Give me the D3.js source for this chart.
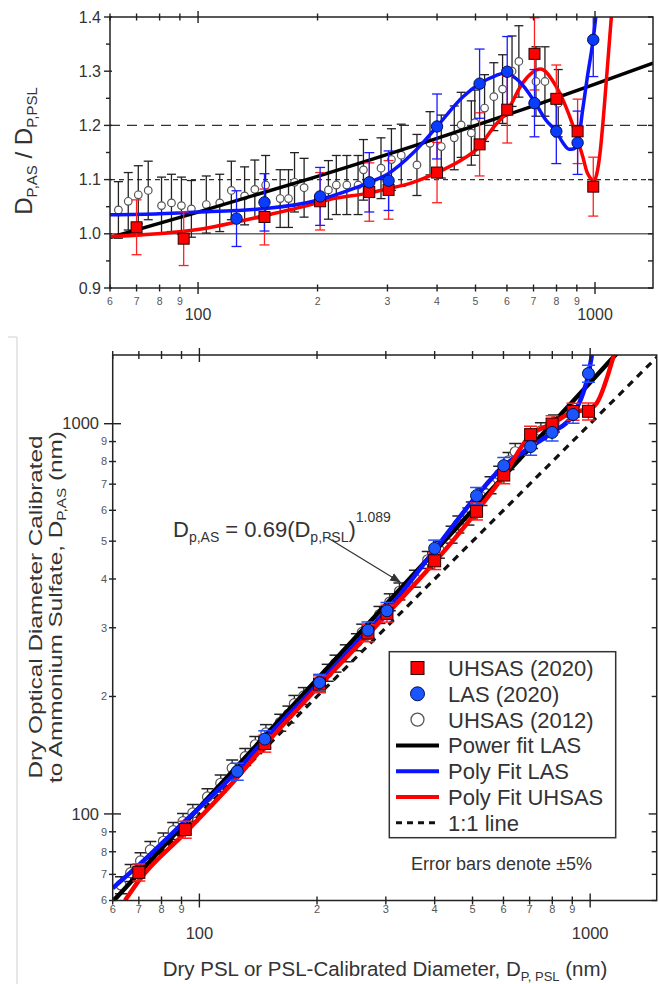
<!DOCTYPE html>
<html><head><meta charset="utf-8">
<script src="https://cdn.jsdelivr.net/npm/d3@7"></script>
<style>body{margin:0;background:#fff}svg{display:block;font-family:Arial,"Liberation Sans",sans-serif}</style>
</head><body><svg id="c" width="659" height="984"></svg>
<script>
// ---------- data ----------
// PSL diameter (nm) and ratio D_P,AS / D_P,PSL
const uhsas2020D = [70, 92, 147, 203, 270, 302, 400, 512, 601, 704, 799, 904, 990];
const uhsas2020R = [1.012, 0.991, 1.031, 1.060, 1.077, 1.081, 1.113, 1.165, 1.229, 1.332, 1.249, 1.189, 1.087];
const las2020D = [125, 147, 203, 270, 302, 400, 512, 601, 704, 799, 904, 990];
const las2020R = [1.028, 1.058, 1.069, 1.095, 1.098, 1.198, 1.277, 1.299, 1.241, 1.189, 1.168, 1.358];
const uhsas2012D = [63, 66.7, 70.7, 74.9, 80.9, 85.7, 90.8, 96.2, 104.9, 113.4, 121.3, 131, 139, 148, 161, 169, 175, 185, 213, 223, 237, 253, 261, 289, 307, 325, 356, 384, 410, 442, 460, 488, 498, 527, 556, 585, 618, 643, 710, 748, 808];
const uhsas2012R = [1.044, 1.060, 1.072, 1.080, 1.052, 1.057, 1.052, 1.046, 1.054, 1.057, 1.080, 1.070, 1.082, 1.090, 1.065, 1.065, 1.095, 1.085, 1.081, 1.090, 1.090, 1.090, 1.118, 1.121, 1.137, 1.145, 1.127, 1.167, 1.161, 1.177, 1.201, 1.186, 1.205, 1.232, 1.253, 1.267, 1.300, 1.318, 1.281, 1.281, 1.241];
// power fit (LAS), ratio form
const powerFitD = [60, 100, 200, 400, 700, 1000, 1400];
const powerFitR = [0.993, 1.040, 1.106, 1.176, 1.236, 1.276, 1.315];
// polynomial fits, ratio form (top panel)
const polyLasD = [60, 80, 100, 125, 150, 200, 214, 250, 270, 300, 348, 400, 465, 512, 563, 590, 645, 704, 752, 798, 830, 860, 885, 904, 931, 957, 990, 1009];
const polyLasR = [1.035, 1.037, 1.040, 1.043, 1.047, 1.062, 1.068, 1.085, 1.095, 1.110, 1.149, 1.198, 1.253, 1.277, 1.292, 1.296, 1.281, 1.244, 1.210, 1.189, 1.168, 1.156, 1.157, 1.165, 1.229, 1.290, 1.360, 1.413];
const polyUhsasD = [60, 100, 150, 200, 214, 269, 301, 348, 400, 465, 512, 553, 601, 657, 728, 798, 860, 931, 957, 996, 1010, 1030, 1050, 1070, 1090, 1105];
const polyUhsasR = [0.995, 1.008, 1.035, 1.057, 1.063, 1.075, 1.083, 1.095, 1.113, 1.138, 1.161, 1.195, 1.226, 1.278, 1.304, 1.272, 1.220, 1.143, 1.112, 1.098, 1.110, 1.150, 1.215, 1.290, 1.365, 1.420];
// polynomial fits, diameter form (bottom panel)
const botLasFitD = [60, 70, 92, 125, 147, 200, 270, 300, 400, 510, 600, 700, 800, 900, 960, 990, 1010];
const botLasFitAS = [64.5, 74, 96, 129, 155, 214, 295, 330, 475, 650, 778, 868, 950, 1048, 1200, 1340, 1500];
const botUhsasFitD = [64.5, 70, 92, 125, 147, 200, 270, 300, 400, 510, 600, 700, 800, 900, 990, 1040, 1150];
const botUhsasFitAS = [60, 67.5, 89.5, 124, 150, 210, 288, 323, 442, 593, 735, 930, 1000, 1070, 1088, 1130, 1500];
const oneToOne = [60, 1500];
// tick values
const xTicks = [60, 70, 80, 90, 100, 200, 300, 400, 500, 600, 700, 800, 900, 1000];
const xMajor = [100, 1000];
const topYTicks = [0.9, 1.0, 1.1, 1.2, 1.3, 1.4];
const topYMinor = [0.95, 1.05, 1.15, 1.25, 1.35];
const legendLabels = ["UHSAS (2020)", "LAS (2020)", "UHSAS (2012)", "Power fit LAS", "Poly Fit LAS", "Poly Fit UHSAS", "1:1 line"];

// ---------- setup ----------
const svg = d3.select("#c");
const RED = "#ff0000", BLUE_M = "#0a3cff", BLUE_L = "#0a14ff", TXT = "#333";
const zip = (a, b) => a.map((v, i) => [v, b[i]]);
const minorLabel = v => String(v)[0];

// left faint border
svg.append("path").attr("d", "M8,337H17V984").attr("fill", "none").attr("stroke", "#cfcfcf").attr("stroke-width", 1);

// ================= TOP PANEL =================
const tx = d3.scaleLog().domain([60, 1400]).range([110, 653]);
const ty = d3.scaleLinear().domain([0.9, 1.4]).range([288, 17]);
svg.append("clipPath").attr("id", "clipT").append("rect").attr("x", 110).attr("y", 17).attr("width", 543).attr("height", 271);
const gT = svg.append("g");
const gTc = gT.append("g").attr("clip-path", "url(#clipT)");

gTc.append("line").attr("x1", 110).attr("x2", 653).attr("y1", ty(1.0)).attr("y2", ty(1.0)).attr("stroke", "#666").attr("stroke-width", 1.5);
gTc.append("line").attr("x1", 110).attr("x2", 653).attr("y1", ty(1.1)).attr("y2", ty(1.1)).attr("stroke", "#333").attr("stroke-width", 1.3).attr("stroke-dasharray", "5,4");
gTc.append("line").attr("x1", 110).attr("x2", 653).attr("y1", ty(1.2)).attr("y2", ty(1.2)).attr("stroke", "#333").attr("stroke-width", 1.3).attr("stroke-dasharray", "10,7");

function errTop(g, data, color, cap) {
  data.forEach(([d, r]) => {
    const x = tx(d), y1 = ty(r * 0.95), y2 = ty(r * 1.05);
    g.append("line").attr("x1", x).attr("x2", x).attr("y1", y1).attr("y2", y2).attr("stroke", color).attr("stroke-width", 1.3);
    [y1, y2].forEach(y => g.append("line").attr("x1", x - cap / 2).attr("x2", x + cap / 2).attr("y1", y).attr("y2", y).attr("stroke", color).attr("stroke-width", 1.3));
  });
}
const d12 = zip(uhsas2012D, uhsas2012R);
errTop(gTc, d12, "#222", 9);
gTc.selectAll(".o12").data(d12).join("circle").attr("cx", d => tx(d[0])).attr("cy", d => ty(d[1])).attr("r", 3.8).attr("fill", "#fff").attr("stroke", "#555").attr("stroke-width", 1.2);

const lineT = d3.line().x(d => tx(d[0])).y(d => ty(d[1])).curve(d3.curveMonotoneX);
gTc.append("path").attr("d", lineT(zip(powerFitD, powerFitR))).attr("fill", "none").attr("stroke", "#000").attr("stroke-width", 3.5);
gTc.append("path").attr("d", lineT(zip(polyUhsasD, polyUhsasR))).attr("fill", "none").attr("stroke", RED).attr("stroke-width", 3.5);
gTc.append("path").attr("d", lineT(zip(polyLasD, polyLasR))).attr("fill", "none").attr("stroke", BLUE_L).attr("stroke-width", 3.5);

const dU = zip(uhsas2020D, uhsas2020R), dL = zip(las2020D, las2020R);
errTop(gTc, dU, "#ff2020", 10);
errTop(gTc, dL, "#1a1aff", 10);
gTc.selectAll(".sq").data(dU).join("rect").attr("x", d => tx(d[0]) - 5.5).attr("y", d => ty(d[1]) - 5.5).attr("width", 11).attr("height", 11).attr("fill", RED).attr("stroke", "#300").attr("stroke-width", 1);
gTc.selectAll(".ci").data(dL).join("circle").attr("cx", d => tx(d[0])).attr("cy", d => ty(d[1])).attr("r", 5.7).attr("fill", BLUE_M).attr("stroke", "#001050").attr("stroke-width", 1);

gT.append("rect").attr("x", 110).attr("y", 17).attr("width", 543).attr("height", 271).attr("fill", "none").attr("stroke", "#222").attr("stroke-width", 1.5);
xTicks.forEach(v => {
  const x = tx(v), maj = xMajor.includes(v), h = maj ? 6 : 3.5;
  [17, 288].forEach(y => gT.append("line").attr("x1", x).attr("x2", x).attr("y1", y - h).attr("y2", y + h).attr("stroke", "#222").attr("stroke-width", 1.4));
  if (maj) gT.append("text").attr("x", x).attr("y", 320).attr("text-anchor", "middle").attr("font-size", 16).attr("fill", TXT).text(v);
  else gT.append("text").attr("x", x).attr("y", 305).attr("text-anchor", "middle").attr("font-size", 10.5).attr("fill", "#555").text(minorLabel(v));
});
topYTicks.forEach(v => {
  const y = ty(v);
  gT.append("line").attr("x1", 104).attr("x2", 112).attr("y1", y).attr("y2", y).attr("stroke", "#222").attr("stroke-width", 1.4);
  gT.append("line").attr("x1", 648).attr("x2", 653).attr("y1", y).attr("y2", y).attr("stroke", "#222").attr("stroke-width", 1.4);
  gT.append("text").attr("x", 101).attr("y", y).attr("dy", "0.35em").attr("text-anchor", "end").attr("font-size", 16).attr("fill", TXT).text(v.toFixed(1));
});
topYMinor.forEach(v => {
  const y = ty(v);
  gT.append("line").attr("x1", 106).attr("x2", 110).attr("y1", y).attr("y2", y).attr("stroke", "#222").attr("stroke-width", 1.4);
  gT.append("line").attr("x1", 648).attr("x2", 653).attr("y1", y).attr("y2", y).attr("stroke", "#222").attr("stroke-width", 1.4);
});
const tt = gT.append("text").attr("transform", "translate(32,151) rotate(-90)").attr("text-anchor", "middle").attr("font-size", 24).attr("fill", TXT);
tt.append("tspan").text("D");
tt.append("tspan").attr("font-size", 15).attr("dy", 5).text("P,AS");
tt.append("tspan").attr("dy", -5).text(" / D");
tt.append("tspan").attr("font-size", 15).attr("dy", 5).text("P,PSL");

// ================= BOTTOM PANEL =================
const bx = d3.scaleLog().domain([60, 1480]).range([112.7, 656.7]);
const by = d3.scaleLog().domain([60, 1500]).range([900.5, 355]);
svg.append("clipPath").attr("id", "clipB").append("rect").attr("x", 112.7).attr("y", 355).attr("width", 544).attr("height", 545.5);
const gB = svg.append("g");
const gBc = gB.append("g").attr("clip-path", "url(#clipB)");
const lineB = d3.line().x(d => bx(d[0])).y(d => by(d[1]));

gBc.append("path").attr("d", lineB(zip(oneToOne, oneToOne))).attr("fill", "none").attr("stroke", "#111").attr("stroke-width", 3.2).attr("stroke-dasharray", "7,6");

function errBot(g, data, color, cap) {
  data.forEach(([d, a]) => {
    const x = bx(d), y1 = by(a * 0.95), y2 = by(a * 1.05);
    g.append("line").attr("x1", x).attr("x2", x).attr("y1", y1).attr("y2", y2).attr("stroke", color).attr("stroke-width", 1.3);
    [y1, y2].forEach(y => g.append("line").attr("x1", x - cap / 2).attr("x2", x + cap / 2).attr("y1", y).attr("y2", y).attr("stroke", color).attr("stroke-width", 1.5));
  });
}
const b12 = d12.map(([d, r]) => [d, d * r]);
errBot(gBc, b12, "#222", 12);
gBc.selectAll(".bo").data(b12).join("circle").attr("cx", d => bx(d[0])).attr("cy", d => by(d[1])).attr("r", 5).attr("fill", "#fff").attr("stroke", "#555").attr("stroke-width", 1.2);

gBc.append("path").attr("d", lineB(powerFitD.map((d, i) => [d, d * powerFitR[i]]))).attr("fill", "none").attr("stroke", "#000").attr("stroke-width", 4.5);
const lineBc = d3.line().x(d => bx(d[0])).y(d => by(d[1])).curve(d3.curveMonotoneX);
gBc.append("path").attr("d", lineBc(zip(botLasFitD, botLasFitAS))).attr("fill", "none").attr("stroke", BLUE_L).attr("stroke-width", 4.5);
gBc.append("path").attr("d", lineBc(zip(botUhsasFitD, botUhsasFitAS))).attr("fill", "none").attr("stroke", RED).attr("stroke-width", 4.5);

const bU = dU.map(([d, r]) => [d, d * r]), bL = dL.map(([d, r]) => [d, d * r]);
errBot(gBc, bU, "#ff2020", 13);
errBot(gBc, bL, "#2050ff", 13);
gBc.selectAll(".bsq").data(bU).join("rect").attr("x", d => bx(d[0]) - 6).attr("y", d => by(d[1]) - 6).attr("width", 12).attr("height", 12).attr("fill", RED).attr("stroke", "#300").attr("stroke-width", 1);
gBc.selectAll(".bci").data(bL).join("circle").attr("cx", d => bx(d[0])).attr("cy", d => by(d[1])).attr("r", 6).attr("fill", "#1a55ff").attr("stroke", "#001050").attr("stroke-width", 1);

gB.append("rect").attr("x", 112.7).attr("y", 355).attr("width", 544).attr("height", 545.5).attr("fill", "none").attr("stroke", "#222").attr("stroke-width", 1.5);
xTicks.forEach(v => {
  const x = bx(v), maj = xMajor.includes(v), h = maj ? 7 : 4;
  [355, 900.5].forEach(y => gB.append("line").attr("x1", x).attr("x2", x).attr("y1", y - h).attr("y2", y + h).attr("stroke", "#222").attr("stroke-width", 1.4));
  if (maj) gB.append("text").attr("x", x).attr("y", 939).attr("text-anchor", "middle").attr("font-size", 16.5).attr("fill", TXT).text(v);
  else gB.append("text").attr("x", x).attr("y", 913).attr("text-anchor", "middle").attr("font-size", 11).attr("fill", "#555").text(minorLabel(v));
});
xTicks.forEach(v => {
  const y = by(v), maj = xMajor.includes(v);
  gB.append("line").attr("x1", maj ? 104 : 109).attr("x2", maj ? 121 : 116).attr("y1", y).attr("y2", y).attr("stroke", "#222").attr("stroke-width", 1.4);
  gB.append("line").attr("x1", 656.7 - (maj ? 8 : 5)).attr("x2", 656.7).attr("y1", y).attr("y2", y).attr("stroke", "#222").attr("stroke-width", 1.4);
  if (maj) gB.append("text").attr("x", 99).attr("y", y).attr("dy", "0.35em").attr("text-anchor", "end").attr("font-size", 16.5).attr("fill", TXT).text(v);
  else gB.append("text").attr("x", 107).attr("y", y).attr("dy", "0.35em").attr("text-anchor", "end").attr("font-size", 11).attr("fill", "#555").text(minorLabel(v));
});

// axis titles
const xt = svg.append("text").attr("x", 385).attr("y", 976).attr("text-anchor", "middle").attr("font-size", 20.5).attr("fill", TXT);
xt.append("tspan").text("Dry PSL or PSL-Calibrated Diameter, D");
xt.append("tspan").attr("font-size", 13).attr("dy", 5).text("P, PSL");
xt.append("tspan").attr("dy", -5).text(" (nm)");
const yt = svg.append("text").attr("transform", "translate(0,607) rotate(-90) scale(1.28,1)").attr("text-anchor", "middle").attr("font-size", 19).attr("fill", TXT);
yt.append("tspan").attr("x", 0).attr("y", 42).text("Dry Optical Diameter Calibrated");
const yt2 = svg.append("text").attr("transform", "translate(0,607) rotate(-90) scale(1.28,1)").attr("text-anchor", "middle").attr("font-size", 19).attr("fill", TXT);
yt2.append("tspan").attr("x", 0).attr("y", 62).text("to Ammonium Sulfate, D");
yt2.append("tspan").attr("font-size", 12).attr("dy", 4).text("P,AS");
yt2.append("tspan").attr("dy", -4).text(" (nm)");

// equation annotation
const eq = svg.append("text").attr("x", 173).attr("y", 537).attr("font-size", 22).attr("fill", TXT);
eq.append("tspan").text("D");
eq.append("tspan").attr("font-size", 14).attr("dy", 5).text("p,AS");
eq.append("tspan").attr("dy", -5).text(" = 0.69(D");
eq.append("tspan").attr("font-size", 14).attr("dy", 5).text("p,PSL");
eq.append("tspan").attr("dy", -5).text(")");
eq.append("tspan").attr("font-size", 14).attr("dy", -15).text("1.089");
svg.append("defs").append("marker").attr("id", "arr").attr("viewBox", "0 0 10 10").attr("refX", 9).attr("refY", 5).attr("markerWidth", 9).attr("markerHeight", 9).attr("orient", "auto").append("path").attr("d", "M0,1L10,5L0,9Z").attr("fill", "#333");
svg.append("line").attr("x1", 328).attr("y1", 538).attr("x2", 400).attr("y2", 582).attr("stroke", "#333").attr("stroke-width", 1.2).attr("marker-end", "url(#arr)");

// legend
const lg = svg.append("g");
lg.append("rect").attr("x", 389.3).attr("y", 651.7).attr("width", 226.4).attr("height", 186).attr("fill", "#fff").attr("stroke", "#333").attr("stroke-width", 1.5);
const ly = i => 668 + i * 25.8;
lg.append("rect").attr("x", 411).attr("y", ly(0) - 6.5).attr("width", 13).attr("height", 13).attr("fill", RED).attr("stroke", "#300");
lg.append("circle").attr("cx", 417.5).attr("cy", ly(1)).attr("r", 7).attr("fill", "#1a55ff").attr("stroke", "#001050");
lg.append("circle").attr("cx", 417.5).attr("cy", ly(2)).attr("r", 6.5).attr("fill", "#fff").attr("stroke", "#555").attr("stroke-width", 1.3);
[["#000", null], [BLUE_L, null], [RED, null], ["#111", "6,5"]].forEach(([c, da], k) => {
  const l = lg.append("line").attr("x1", 396).attr("x2", 439).attr("y1", ly(3 + k)).attr("y2", ly(3 + k)).attr("stroke", c).attr("stroke-width", da ? 3 : 4);
  if (da) l.attr("stroke-dasharray", da);
});
legendLabels.forEach((t, i) => lg.append("text").attr("x", 448).attr("y", ly(i)).attr("dy", "0.36em").attr("font-size", 22).attr("fill", TXT).text(t));
svg.append("text").attr("x", 411).attr("y", 870).attr("font-size", 18).attr("fill", TXT).text("Error bars denote ±5%");
</script></body></html>
